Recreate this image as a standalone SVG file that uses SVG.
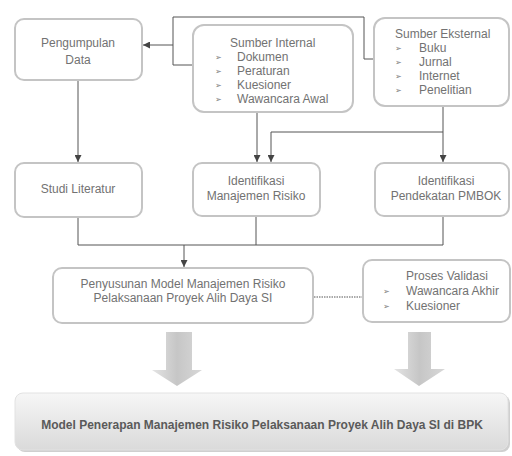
<svg xmlns="http://www.w3.org/2000/svg" width="512" height="456" viewBox="0 0 512 456">
<style>
.box{fill:#fff;stroke:#c4c4c4;stroke-width:2}
.t{font-family:"Liberation Sans",Arial,sans-serif;font-size:12px;fill:#727272}
.c{text-anchor:middle}
.b{font-family:"DejaVu Sans",sans-serif;font-size:8px;fill:#7a7a7a}
.ln{fill:none;stroke:#555;stroke-width:1}
.bt{font-family:"Liberation Sans",Arial,sans-serif;font-size:12px;font-weight:bold;fill:#5a5a5a;text-anchor:middle}
</style>
<defs>
<marker id="ah" viewBox="0 0 8 8" refX="8" refY="4" markerWidth="7" markerHeight="7" markerUnits="userSpaceOnUse" orient="auto">
<path d="M0,0 L8,4 L0,8 Z" fill="#444"/>
</marker>
<linearGradient id="bg" x1="0" y1="0" x2="0" y2="1">
<stop offset="0" stop-color="#f6f6f6"/>
<stop offset="1" stop-color="#dadada"/>
</linearGradient>
<linearGradient id="ag" x1="0" y1="0" x2="1" y2="0">
<stop offset="0" stop-color="#e4e4e4"/>
<stop offset="0.5" stop-color="#c6c6c6"/>
<stop offset="1" stop-color="#d8d8d8"/>
</linearGradient>
</defs>

<g id="connectors">
<path class="ln" d="M193,65 H173 V45 H143" marker-end="url(#ah)"/>
<path class="ln" d="M374,59 H364 V17 H173 V45"/>
<path class="ln" d="M78,81 V162" marker-end="url(#ah)"/>
<path class="ln" d="M257,113 V162" marker-end="url(#ah)"/>
<path class="ln" d="M443,107 V162" marker-end="url(#ah)"/>
<path class="ln" d="M443,132 H271 V162" marker-end="url(#ah)"/>
<path class="ln" d="M78,218 V245 H443 V217" />
<path class="ln" d="M256,217 V245" />
<path class="ln" d="M184,245 V267" marker-end="url(#ah)"/>
<path class="ln" d="M314,297 H362" stroke-dasharray="1.5,1"/>
</g>

<g id="pengumpulan">
<rect class="box" x="15" y="19" width="127" height="61" rx="9"/>
<text class="t c" x="78" y="47">Pengumpulan</text>
<text class="t c" x="78" y="64">Data</text>
</g>

<g id="sumber-internal">
<rect class="box" x="193" y="25" width="160" height="87" rx="11"/>
<text class="t" x="230" y="47">Sumber Internal</text>
<text class="b" x="215" y="60">➢</text><text class="t" x="237" y="61">Dokumen</text>
<text class="b" x="215" y="74">➢</text><text class="t" x="237" y="75">Peraturan</text>
<text class="b" x="215" y="88">➢</text><text class="t" x="237" y="89">Kuesioner</text>
<text class="b" x="215" y="102">➢</text><text class="t" x="237" y="103">Wawancara Awal</text>
</g>

<g id="sumber-eksternal">
<rect class="box" x="374" y="18" width="135" height="88" rx="11"/>
<text class="t" x="395" y="38">Sumber Eksternal</text>
<text class="b" x="395" y="51">➢</text><text class="t" x="419" y="52">Buku</text>
<text class="b" x="395" y="65">➢</text><text class="t" x="419" y="66">Jurnal</text>
<text class="b" x="395" y="79">➢</text><text class="t" x="419" y="80">Internet</text>
<text class="b" x="395" y="93">➢</text><text class="t" x="419" y="94">Penelitian</text>
</g>

<g id="studi-literatur">
<rect class="box" x="15" y="163" width="127" height="54" rx="9"/>
<text class="t c" x="78" y="193">Studi Literatur</text>
</g>

<g id="identifikasi-mr">
<rect class="box" x="193" y="163" width="127" height="53" rx="9"/>
<text class="t c" x="256" y="185">Identifikasi</text>
<text class="t c" x="256" y="200">Manajemen Risiko</text>
</g>

<g id="identifikasi-pmbok">
<rect class="box" x="375" y="163" width="134" height="53" rx="9"/>
<text class="t c" x="446" y="185">Identifikasi</text>
<text class="t c" x="446" y="200">Pendekatan PMBOK</text>
</g>

<g id="penyusunan">
<rect class="box" x="53" y="268" width="260" height="55" rx="9"/>
<text class="t c" x="183" y="288">Penyusunan Model Manajemen Risiko</text>
<text class="t c" x="183" y="302">Pelaksanaan Proyek Alih Daya SI</text>
</g>

<g id="proses-validasi">
<rect class="box" x="363" y="260" width="147" height="62" rx="9"/>
<text class="t" x="406" y="280">Proses Validasi</text>
<text class="b" x="383" y="294">➢</text><text class="t" x="406" y="295">Wawancara Akhir</text>
<text class="b" x="383" y="309">➢</text><text class="t" x="406" y="310">Kuesioner</text>
</g>

<g id="block-arrows">
<path d="M166,332 H192 V370 H202 L177,386 L152,370 H166 Z" fill="url(#ag)"/>
<path d="M408,332 H431 V369 H445 L419,386 L394,369 H408 Z" fill="url(#ag)"/>
</g>

<g id="model-penerapan">
<rect x="17" y="395" width="493" height="57" rx="8" fill="#cfcfcf"/>
<rect x="15" y="393" width="493" height="57" rx="8" fill="url(#bg)" stroke="#e2e2e2" stroke-width="1"/>
<text class="bt" x="262" y="429">Model Penerapan Manajemen Risiko Pelaksanaan Proyek Alih Daya SI di BPK</text>
</g>
</svg>
